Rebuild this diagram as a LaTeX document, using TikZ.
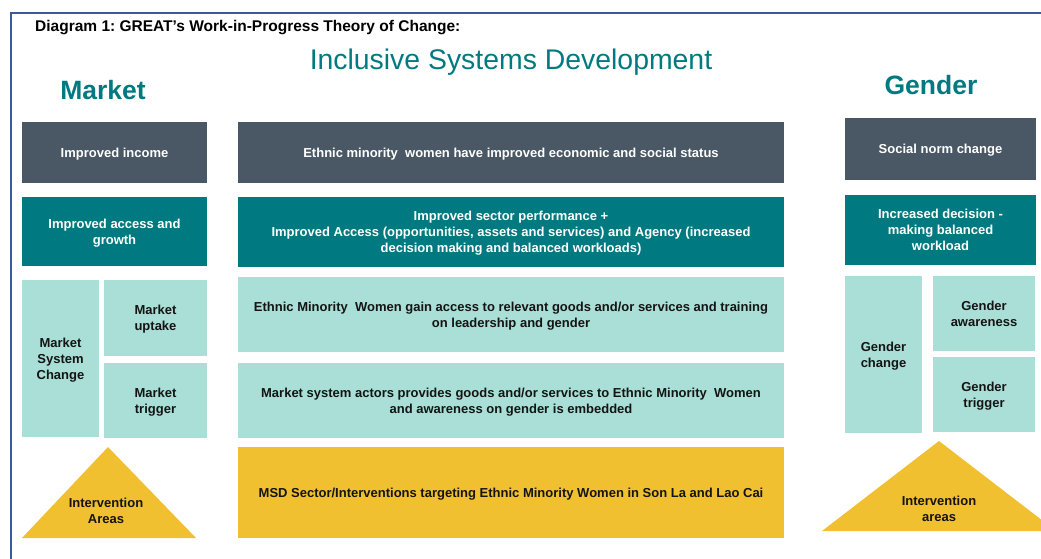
\documentclass[tikz,border=0pt]{standalone}
\usepackage{fontspec}
\setmainfont{Liberation Sans}
\frenchspacing
\usetikzlibrary{positioning}
\definecolor{slate}{RGB}{74,88,102}
\definecolor{tealdark}{RGB}{0,122,128}
\definecolor{teallight}{RGB}{169,223,214}
\definecolor{gold}{RGB}{240,192,48}
\definecolor{frameblue}{RGB}{60,90,154}
\definecolor{ink}{RGB}{20,20,20}
\tikzset{
	box/.style={inner sep=0pt, outer sep=0pt, align=center, text depth=-1.5pt, font=\bfseries\fontsize{13}{16}\selectfont},
	slatebox/.style={box, fill=slate, text=white},
	tealbox/.style={box, fill=tealdark, text=white},
	lightbox/.style={box, fill=teallight, text=ink},
	areatext/.style={inner sep=0pt, align=center, text=ink, font=\bfseries\fontsize{13}{16}\selectfont},
	heading/.style={inner sep=0pt, anchor=base, text=tealdark}
}

\begin{document}
\begin{tikzpicture}[x=1pt, y=-1pt]
\useasboundingbox (0,0) rectangle (1041,559);
\clip (0,0) rectangle (1041,559);
\path [draw, frameblue, line width=2pt] (1045,13) -- (11,13) -- (11,563);

\node (caption) [inner sep=0pt, anchor=base west, font=\bfseries\fontsize{15.5}{18}\selectfont] at (35,32) {Diagram 1: GREAT’s Work-in-Progress Theory of Change:};
\node (isd) [heading, font=\fontsize{28.4}{32}\selectfont] at (511,70) {Inclusive Systems Development};
\node (market) [heading, font=\bfseries\fontsize{26.5}{30}\selectfont] at (103,100) {Market};
\node (gender) [heading, font=\bfseries\fontsize{26.5}{30}\selectfont] at (931,95) {Gender};

\node (income) [slatebox, minimum width=185pt, minimum height=61pt] at (114.5,152.5) {Improved income};
\node (access) [tealbox, minimum width=185pt, minimum height=69pt, below=14pt of income] {Improved access and\\growth};
\node (msc) [lightbox, minimum width=77pt, minimum height=157pt, below=14pt of access.south west, anchor=north west] {Market\\System\\Change};
\node (uptake) [lightbox, minimum width=103pt, minimum height=76pt, right=5pt of msc.north east, anchor=north west] {Market\\uptake};
\node (mtrigger) [lightbox, minimum width=103pt, minimum height=75pt, below=7pt of uptake] {Market\\trigger};
\path [fill=gold] (22,538) -- (108,447) -- (196,538) -- cycle;
\node (areasL) [areatext] at (106,511) {Intervention\\Areas};

\node (status) [slatebox, minimum width=546pt, minimum height=61pt] at (511,152.5) {Ethnic minority\ \ women have improved economic and social status};
\node (perf) [tealbox, minimum width=546pt, minimum height=70pt, below=14pt of status] {Improved sector performance +\\Improved Access (opportunities, assets and services) and Agency (increased\\decision making and balanced workloads)};
\node (gain) [lightbox, minimum width=546pt, minimum height=75pt, below=10pt of perf] {Ethnic Minority\ \ Women gain access to relevant goods and/or services and training\\on leadership and gender};
\node (actors) [lightbox, minimum width=546pt, minimum height=75pt, below=11pt of gain] {Market system actors provides goods and/or services to Ethnic Minority\ \ Women\\and awareness on gender is embedded};
\node (msd) [box, fill=gold, text=ink, minimum width=546pt, minimum height=91pt, below=9pt of actors] {MSD Sector/Interventions targeting Ethnic Minority Women in Son La and Lao Cai};

\node (norm) [slatebox, minimum width=191pt, minimum height=62pt] at (940.5,149) {Social norm change};
\node (decision) [tealbox, minimum width=191pt, minimum height=70pt, below=15pt of norm] {Increased decision -\\making balanced\\workload};
\node (gchange) [lightbox, minimum width=77pt, minimum height=157pt, below=11pt of decision.south west, anchor=north west] {Gender\\change};
\node (awareness) [lightbox, minimum width=102pt, minimum height=75pt, right=11pt of gchange.north east, anchor=north west] {Gender\\awareness};
\node (gtrigger) [lightbox, minimum width=102pt, minimum height=75pt, below=6pt of awareness] {Gender\\trigger};
\path [fill=gold] (822,531) -- (939,441) -- (1056,531) -- cycle;
\node (areasR) [areatext] at (939,509) {Intervention\\areas};
\end{tikzpicture}
\end{document}
